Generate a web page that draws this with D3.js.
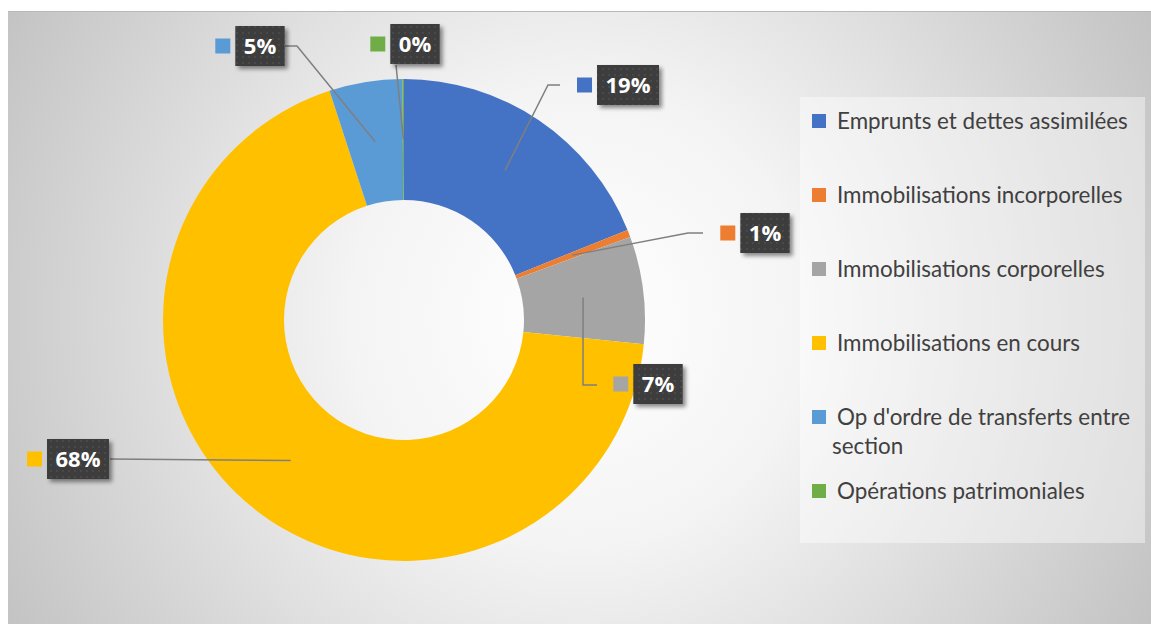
<!DOCTYPE html>
<html>
<head>
<meta charset="utf-8">
<script src="https://cdn.jsdelivr.net/npm/d3@7"></script>
<style>
  html, body { margin: 0; padding: 0; background: #ffffff; }
  svg { display: block; }
</style>
</head>
<body>
<svg id="chart" width="1151" height="624"></svg>
<script>
// ---- data ----
const categories = [
  "Emprunts et dettes assimilées",
  "Immobilisations incorporelles",
  "Immobilisations corporelles",
  "Immobilisations en cours",
  "Op d'ordre de transferts entre section",
  "Opérations patrimoniales"
];
const values = [18.9, 0.5, 7.2, 68.4, 4.9, 0.1];
const colors = ["#4472C4", "#ED7D31", "#A5A5A5", "#FFC000", "#5B9BD5", "#70AD47"];

// ---- layout (label boxes and leader elbows, in px) ----
const labelBoxes = [
  { x: 628, y: 85,  leader: [[548, 85], [560, 85]] },
  { x: 765, y: 233, leader: [[688, 233], [703, 233]] },
  { x: 658, y: 384, leader: [[583, 385], [597, 385]] },
  { x: 78,  y: 459, leader: [[110, 459]] },
  { x: 260, y: 46,  leader: [[297, 46], [285, 46]] },
  { x: 415, y: 44,  leader: [[396, 65]] }
];

const W = 1151, H = 624;
const svg = d3.select("#chart");
const defs = svg.append("defs");

// background radial gradient
const cx0 = 578, cy0 = 317;
const bg = defs.append("radialGradient")
  .attr("id", "bgGrad").attr("gradientUnits", "userSpaceOnUse")
  .attr("cx", cx0).attr("cy", cy0).attr("r", 650);
bg.append("stop").attr("offset", "0").attr("stop-color", "#ffffff");
bg.append("stop").attr("offset", "0.35").attr("stop-color", "#f4f4f4");
bg.append("stop").attr("offset", "1").attr("stop-color", "#c3c3c3");

// dotted pattern for label boxes
const pat = defs.append("pattern").attr("id", "dots")
  .attr("patternUnits", "userSpaceOnUse").attr("width", 6).attr("height", 6);
pat.append("rect").attr("width", 6).attr("height", 6).attr("fill", "#3c3c3c");
pat.append("circle").attr("cx", 3).attr("cy", 3).attr("r", 1.1).attr("fill", "#4d4d4d");

const sh = defs.append("filter").attr("id", "shadow")
  .attr("x", "-30%").attr("y", "-30%").attr("width", "170%").attr("height", "170%");
sh.append("feDropShadow").attr("dx", 3).attr("dy", 3).attr("stdDeviation", 2.2)
  .attr("flood-color", "#000").attr("flood-opacity", 0.45);

svg.append("rect").attr("x", 8).attr("y", 11).attr("width", W - 8).attr("height", H - 11)
  .attr("fill", "url(#bgGrad)");
svg.append("line").attr("x1", 8).attr("x2", W).attr("y1", 11.5).attr("y2", 11.5)
  .attr("stroke", "#b8b8b8").attr("stroke-width", 1);

// ---- donut ----
const cx = 404, cy = 320, R = 241, r = 120;
const pie = d3.pie().sort(null).value(d => d)(values);
const arc = d3.arc().innerRadius(r).outerRadius(R);
const mid = d3.arc().innerRadius((r + R) / 2).outerRadius((r + R) / 2);

const g = svg.append("g").attr("transform", `translate(${cx},${cy})`);
g.selectAll("path.slice").data(pie).join("path")
  .attr("class", "slice")
  .attr("d", arc)
  .attr("fill", (d, i) => colors[i]);

// ---- leader lines ----
const total = d3.sum(values);
const line = d3.line();
svg.append("g").selectAll("path.leader").data(pie).join("path")
  .attr("class", "leader")
  .attr("d", (d, i) => {
    const c = mid.centroid(d);
    const pts = [[c[0] + cx, c[1] + cy]].concat(labelBoxes[i].leader);
    return line(pts);
  })
  .attr("fill", "none").attr("stroke", "#7f7f7f").attr("stroke-width", 1.5);

// ---- labels ----
const lab = svg.append("g");
pie.forEach((d, i) => {
  const L = labelBoxes[i];
  const txt = Math.round(values[i] / total * 100 + 1e-9) + "%";
  const gg = lab.append("g");
  const box = gg.append("rect").attr("fill", "url(#dots)").attr("filter", "url(#shadow)");
  const t = gg.append("text").text(txt)
    .attr("x", L.x).attr("y", L.y).attr("dy", "0.36em")
    .attr("text-anchor", "middle")
    .attr("font-family", "'Open Sans', Lato, sans-serif")
    .attr("font-weight", "bold").attr("font-size", 22)
    .attr("fill", "#ffffff");
  const tw = t.node().getComputedTextLength();
  const bw = tw + 17, bh = 40;
  box.attr("x", L.x - bw / 2).attr("y", L.y - bh / 2).attr("width", bw).attr("height", bh);
  gg.append("rect")
    .attr("x", L.x - bw / 2 - 20).attr("y", L.y - 7.5)
    .attr("width", 15).attr("height", 15)
    .attr("fill", colors[i]);
});

// ---- legend ----
svg.append("rect").attr("x", 800).attr("y", 97).attr("width", 345).attr("height", 446)
  .attr("fill", "#ffffff").attr("fill-opacity", 0.42);

const legendY = [121, 195, 269, 343, 417, 491];
const lg = svg.append("g");
categories.forEach((c, i) => {
  lg.append("rect").attr("x", 812).attr("y", legendY[i] - 7).attr("width", 14).attr("height", 14)
    .attr("fill", colors[i]);
});
// fit legend font so first entry spans ~291px
const probe = lg.append("text").text(categories[0])
  .attr("font-family", "Lato, 'Open Sans', sans-serif").attr("font-size", 20);
const fs = 20 * 291 / probe.node().getComputedTextLength();
probe.remove();
categories.forEach((c, i) => {
  if (i === 4) {
    const parts = ["Op d'ordre de transferts entre", "section"];
    lg.append("text").text(parts[0]).attr("x", 837).attr("y", legendY[i]).attr("dy", "0.35em")
      .attr("font-family", "Lato, 'Open Sans', sans-serif").attr("font-size", fs).attr("fill", "#404040");
    lg.append("text").text(parts[1]).attr("x", 832).attr("y", legendY[i] + 29).attr("dy", "0.35em")
      .attr("font-family", "Lato, 'Open Sans', sans-serif").attr("font-size", fs).attr("fill", "#404040");
  } else {
    lg.append("text").text(c).attr("x", 837).attr("y", legendY[i]).attr("dy", "0.35em")
      .attr("font-family", "Lato, 'Open Sans', sans-serif").attr("font-size", fs).attr("fill", "#404040");
  }
});
</script>
</body>
</html>
